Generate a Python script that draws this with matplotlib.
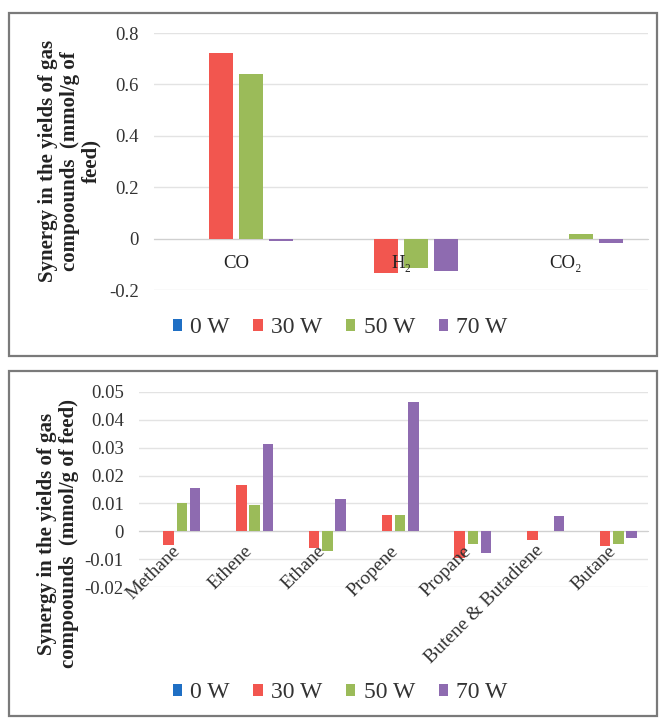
import matplotlib
matplotlib.use("Agg")
import matplotlib.pyplot as plt
import matplotlib.transforms as mtransforms
import numpy as np
from matplotlib.patches import Rectangle, Patch

plt.rcParams['font.family'] = ['Liberation Serif', 'DejaVu Serif']

series_names = ['0 W', '30 W', '50 W', '70 W']
colors = ['#1f6fc4', '#f2564f', '#9bbb59', '#8e6bb0']

top_categories = ['CO', 'H₂', 'CO₂']
top_0w = [0.0, 0.0, 0.0]
top_30w = [0.722, -0.133, -0.003]
top_50w = [0.639, -0.113, 0.0195]
top_70w = [-0.009, -0.127, -0.016]
top_yticks = [-0.2, 0, 0.2, 0.4, 0.6, 0.8]
top_yticklabels = ['-0.2', '0', '0.2', '0.4', '0.6', '0.8']

bot_categories = ['Methane', 'Ethene', 'Ethane', 'Propene', 'Propane',
                  'Butene & Butadiene', 'Butane']
bot_0w = [0, 0, 0, 0, 0, 0, 0]
bot_30w = [-0.0048, 0.0166, -0.0061, 0.0059, -0.0095, -0.0031, -0.0053]
bot_50w = [0.0102, 0.0095, -0.0072, 0.0059, -0.0046, 0.0, -0.0046]
bot_70w = [0.0155, 0.0312, 0.0117, 0.0464, -0.0079, 0.0054, -0.0024]
bot_yticks = [-0.02, -0.01, 0, 0.01, 0.02, 0.03, 0.04, 0.05]
bot_yticklabels = ['-0.02', '-0.01', '0', '0.01', '0.02', '0.03', '0.04', '0.05']

W, H = 662, 719
fig = plt.figure(figsize=(W / 100, H / 100), dpi=100)


def fx(px):
    return px / W


def fy(py):
    return 1 - py / H


# panel borders
for (x0, y0, x1, y1) in [(9, 13, 657, 356), (9, 371, 657, 716)]:
    fig.patches.append(Rectangle((fx(x0), fy(y1)), fx(x1 - x0), (y1 - y0) / H,
                                 transform=fig.transFigure, fill=False,
                                 edgecolor='#7a7a7a', linewidth=1.6))


def draw(ax, cats, series, yticks, yticklabels, ylim, rot, pad):
    x = np.arange(len(cats))
    step = 0.182
    width = 0.145
    for i, vals in enumerate(series):
        ax.bar(x + (i - 1.5) * step, vals, width, color=colors[i], zorder=3,
               label=series_names[i])
    ax.set_xlim(-0.5, len(cats) - 0.5)
    ax.set_ylim(*ylim)
    ax.set_yticks(yticks)
    ax.set_yticklabels(yticklabels, fontsize=13.5, color='#333333')
    ax.yaxis.grid(True, color='#e3e3e3', linewidth=1.0)
    ax.set_axisbelow(True)
    ax.xaxis.set_zorder(4)
    for s in ['top', 'right', 'left']:
        ax.spines[s].set_visible(False)
    ax.spines['bottom'].set_position(('data', 0))
    ax.spines['bottom'].set_color('#d0d0d0')
    ax.spines['bottom'].set_zorder(2)
    ax.tick_params(axis='y', length=0, pad=11)
    ax.tick_params(axis='x', length=0, pad=pad)
    ax.set_xticks(x)
    if rot:
        labels = ax.set_xticklabels(cats, fontsize=14, rotation=45, ha='right',
                                    va='top', color='#333333')
        off = mtransforms.ScaledTranslation(8 / 100, 0, fig.dpi_scale_trans)
        for lb in labels:
            lb.set_transform(lb.get_transform() + off)
    else:
        ax.set_xticklabels(cats, fontsize=13.5, color='#222222')
    ax.set_facecolor('none')


ax1 = fig.add_axes([fx(154), fy(290), fx(648 - 154), (290 - 33) / H])
draw(ax1, top_categories, [top_0w, top_30w, top_50w, top_70w],
     top_yticks, top_yticklabels, (-0.2, 0.8), False, 12)

ax2 = fig.add_axes([fx(139), fy(587), fx(648 - 139), (587 - 392) / H])
draw(ax2, bot_categories, [bot_0w, bot_30w, bot_50w, bot_70w],
     bot_yticks, bot_yticklabels, (-0.02, 0.05), True, 8)

fig.text(fx(70), fy(161), 'Synergy in the yields of gas\ncompoounds  (mmol/g of\nfeed)',
         rotation=90, ha='center', va='center', multialignment='center',
         fontsize=15, fontweight='bold', linespacing=1.1, color='#222222')
fig.text(fx(58), fy(534), 'Synergy in the yields of gas\ncompoounds  (mmol/g of feed)',
         rotation=90, ha='center', va='center', multialignment='center',
         fontsize=15, fontweight='bold', linespacing=1.1, color='#222222')

handles = [Patch(facecolor=c, edgecolor='none') for c in colors]
for ypx in [328, 693]:
    fig.legend(handles, series_names, loc='center',
               bbox_to_anchor=(fx(340), fy(ypx)), ncol=4, frameon=False,
               fontsize=17, handlelength=0.4, handleheight=0.4,
               handletextpad=0.35, columnspacing=1.0, labelcolor='#333333')

fig.savefig('out.png', dpi=100)
